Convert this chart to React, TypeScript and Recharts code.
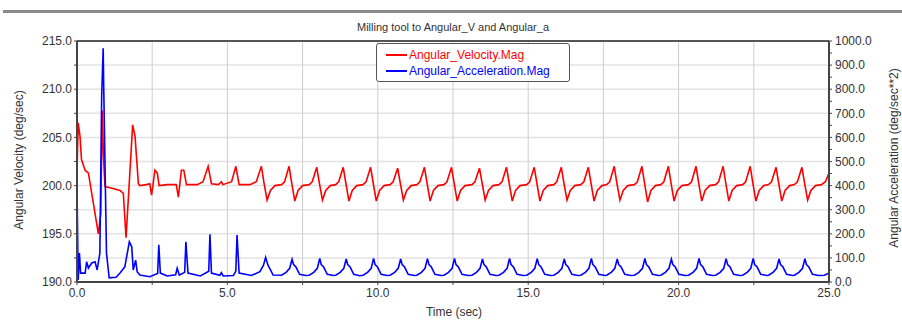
import React from 'react';
import { LineChart, Line, XAxis, YAxis, CartesianGrid, ReferenceLine, Legend } from 'recharts';

const chartTitle = 'Milling tool to Angular_V and Angular_a';
const xAxisTitle = 'Time (sec)';
const leftAxisTitle = 'Angular Velocity (deg/sec)';
const rightAxisTitle = 'Angular Acceleration (deg/sec**2)';
const seriesNames = ['Angular_Velocity.Mag', 'Angular_Acceleration.Mag'];
const seriesColors = ['#ff0000', '#0000ff'];

const timeTicks = [0, 2.5, 5, 7.5, 10, 12.5, 15, 17.5, 20, 22.5, 25];
const velocityTicks = [190, 192.5, 195, 197.5, 200, 202.5, 205, 207.5, 210, 212.5, 215];
const accelerationTicks = [0, 50, 100, 150, 200, 250, 300, 350, 400, 450, 500, 550, 600, 650, 700, 750, 800, 850, 900, 950, 1000];

// [time (sec), angular velocity (deg/sec)]
const angularVelocity: [number, number][] = [
  [0, 201.6], [0.04, 206.5], [0.1, 205.1], [0.15, 202.7], [0.27, 201.6], [0.38, 201.3], [0.49, 199.2],
  [0.71, 195.0], [0.79, 197.1], [0.84, 207.8], [0.88, 203.0], [0.93, 199.9], [1.2, 199.7], [1.43, 199.5],
  [1.54, 199.2], [1.63, 194.6], [1.74, 200.4], [1.85, 206.3], [1.93, 205.1], [2.04, 200.2], [2.09, 200.0],
  [2.3, 200.1], [2.42, 200.2], [2.48, 199.0], [2.59, 201.6], [2.67, 201.3], [2.73, 200.0], [3.0, 200.1],
  [3.3, 200.1], [3.37, 198.8], [3.47, 201.6], [3.55, 201.6], [3.64, 200.1], [4.0, 200.1], [4.19, 200.4],
  [4.36, 202.0], [4.47, 200.2], [4.7, 200.1], [4.8, 200.4], [4.85, 200.1], [5.14, 200.4], [5.28, 202.0],
  [5.39, 200.1], [5.75, 200.1], [5.96, 200.4],
  [6.13, 202.0], [6.21, 200.4], [6.32, 198.5], [6.43, 199.5], [6.58, 200.0],
  [6.8, 200.1], [6.9, 200.4], [7.05, 202.0], [7.13, 200.4], [7.24, 198.4], [7.35, 199.5], [7.5, 200.0],
  [7.72, 200.1], [7.82, 200.4], [7.97, 201.9], [8.05, 200.4], [8.16, 198.5], [8.27, 199.5], [8.42, 200.0],
  [8.6, 200.1], [8.7, 200.4], [8.85, 201.9], [8.93, 200.4], [9.04, 198.4], [9.15, 199.5], [9.3, 200.0],
  [9.51, 200.1], [9.61, 200.4], [9.76, 201.9], [9.84, 200.4], [9.95, 198.4], [10.06, 199.5], [10.21, 200.0],
  [10.41, 200.1], [10.51, 200.4], [10.66, 201.8], [10.74, 200.4], [10.85, 198.5], [10.96, 199.5], [11.11, 200.0],
  [11.3, 200.1], [11.4, 200.4], [11.55, 201.9], [11.63, 200.4], [11.74, 198.4], [11.85, 199.5], [12.0, 200.0],
  [12.2, 200.1], [12.3, 200.4], [12.45, 201.9], [12.53, 200.4], [12.64, 198.4], [12.75, 199.5], [12.9, 200.0],
  [13.13, 200.1], [13.23, 200.4], [13.38, 201.8], [13.46, 200.4], [13.57, 198.5], [13.68, 199.5], [13.83, 200.0],
  [14.03, 200.1], [14.13, 200.4], [14.28, 201.9], [14.36, 200.4], [14.47, 198.4], [14.58, 199.5], [14.73, 200.0],
  [14.95, 200.1], [15.05, 200.4], [15.2, 201.9], [15.28, 200.4], [15.39, 198.4], [15.5, 199.5], [15.65, 200.0],
  [15.85, 200.1], [15.95, 200.4], [16.1, 201.9], [16.18, 200.4], [16.29, 198.5], [16.4, 199.5], [16.55, 200.0],
  [16.75, 200.1], [16.85, 200.4], [17.0, 201.9], [17.08, 200.4], [17.19, 198.4], [17.3, 199.5], [17.45, 200.0],
  [17.61, 200.1], [17.71, 200.4], [17.86, 202.0], [17.94, 200.4], [18.05, 198.5], [18.16, 199.5], [18.31, 200.0],
  [18.53, 200.1], [18.63, 200.4], [18.78, 202.0], [18.86, 200.4], [18.97, 198.3], [19.08, 199.5], [19.23, 200.0],
  [19.41, 200.1], [19.51, 200.4], [19.66, 202.0], [19.74, 200.4], [19.85, 198.4], [19.96, 199.5], [20.11, 200.0],
  [20.33, 200.1], [20.43, 200.4], [20.58, 202.0], [20.66, 200.4], [20.77, 198.4], [20.88, 199.5], [21.03, 200.0],
  [21.23, 200.1], [21.33, 200.4], [21.48, 202.0], [21.56, 200.4], [21.67, 198.4], [21.78, 199.5], [21.93, 200.0],
  [22.13, 200.1], [22.23, 200.4], [22.38, 202.0], [22.46, 200.4], [22.57, 198.4], [22.68, 199.5], [22.83, 200.0],
  [22.99, 200.1], [23.09, 200.4], [23.24, 201.9], [23.32, 200.4], [23.43, 198.4], [23.54, 199.5], [23.69, 200.0],
  [23.85, 200.1], [23.95, 200.4], [24.1, 201.9], [24.18, 200.4], [24.29, 198.5], [24.4, 199.5], [24.55, 200.0],
  [24.75, 200.1], [24.88, 200.4], [25.0, 201.3],
];

// [time (sec), angular acceleration (deg/sec**2)]
const angularAcceleration: [number, number][] = [
  [0, 395], [0.04, 8], [0.08, 120], [0.12, 37], [0.27, 37], [0.32, 84], [0.38, 58], [0.49, 79], [0.6, 84],
  [0.67, 50], [0.76, 120], [0.82, 769], [0.87, 970], [0.89, 797], [0.98, 120], [1.07, 17], [1.3, 20],
  [1.43, 37], [1.59, 63], [1.74, 167], [1.82, 146], [1.87, 50], [1.95, 91], [2.0, 43], [2.09, 29], [2.42, 22],
  [2.68, 35], [2.72, 154], [2.77, 37], [3.0, 25], [3.28, 30], [3.33, 57], [3.4, 29], [3.58, 40], [3.62, 167],
  [3.69, 37], [4.1, 25], [4.38, 45], [4.42, 198], [4.47, 37], [4.75, 28], [4.8, 39], [4.86, 25], [5.2, 27],
  [5.28, 45], [5.32, 195], [5.39, 37], [5.8, 27], [6.08, 43], [6.2, 70], [6.27, 102], [6.35, 70], [6.52, 29],
  [6.8, 28], [6.95, 40], [7.07, 57], [7.15, 94], [7.2, 72], [7.28, 62], [7.4, 32], [7.6, 27],
  [7.72, 28], [7.87, 40], [7.99, 57], [8.07, 98], [8.12, 72], [8.2, 62], [8.32, 32], [8.52, 27],
  [8.6, 28], [8.75, 40], [8.87, 57], [8.95, 96], [9.0, 72], [9.08, 62], [9.2, 32], [9.4, 26],
  [9.51, 28], [9.66, 40], [9.78, 57], [9.86, 98], [9.91, 72], [9.99, 62], [10.11, 32], [10.31, 27],
  [10.41, 28], [10.56, 40], [10.68, 57], [10.76, 96], [10.81, 72], [10.89, 62], [11.01, 32], [11.21, 27],
  [11.3, 28], [11.45, 40], [11.57, 57], [11.65, 97], [11.7, 72], [11.78, 62], [11.9, 32], [12.1, 27],
  [12.2, 28], [12.35, 40], [12.47, 57], [12.55, 98], [12.6, 72], [12.68, 62], [12.8, 32], [13.0, 27],
  [13.13, 28], [13.28, 40], [13.4, 57], [13.48, 96], [13.53, 72], [13.61, 62], [13.73, 32], [13.93, 27],
  [14.03, 28], [14.18, 40], [14.3, 57], [14.38, 98], [14.43, 72], [14.51, 62], [14.63, 32], [14.83, 27],
  [14.95, 28], [15.1, 40], [15.22, 57], [15.3, 97], [15.35, 72], [15.43, 62], [15.55, 32], [15.75, 27],
  [15.85, 28], [16.0, 40], [16.12, 57], [16.2, 96], [16.25, 72], [16.33, 62], [16.45, 32], [16.65, 27],
  [16.75, 28], [16.9, 40], [17.02, 57], [17.1, 98], [17.15, 72], [17.23, 62], [17.35, 32], [17.55, 27],
  [17.61, 28], [17.76, 40], [17.88, 57], [17.96, 96], [18.01, 72], [18.09, 62], [18.21, 32], [18.41, 27],
  [18.53, 28], [18.68, 40], [18.8, 57], [18.88, 98], [18.93, 72], [19.01, 62], [19.13, 32], [19.33, 27],
  [19.41, 28], [19.56, 40], [19.68, 57], [19.76, 95], [19.81, 72], [19.89, 62], [20.01, 32], [20.21, 27],
  [20.33, 28], [20.48, 40], [20.6, 57], [20.68, 98], [20.73, 72], [20.81, 62], [20.93, 32], [21.13, 27],
  [21.23, 28], [21.38, 40], [21.5, 57], [21.58, 97], [21.63, 72], [21.71, 62], [21.83, 32], [22.03, 27],
  [22.13, 28], [22.28, 40], [22.4, 57], [22.48, 98], [22.53, 72], [22.61, 62], [22.73, 32], [22.93, 27],
  [22.99, 28], [23.14, 40], [23.26, 57], [23.34, 96], [23.39, 72], [23.47, 62], [23.59, 32], [23.79, 27],
  [23.85, 28], [24.0, 40], [24.12, 57], [24.2, 97], [24.25, 72], [24.33, 62], [24.45, 32], [24.65, 27],
  [24.85, 28], [25.0, 37],
];

const velocityData = angularVelocity.map(([t, v]) => ({ t, v }));
const accelerationData = angularAcceleration.map(([t, a]) => ({ t, a }));

const FONT = '"Liberation Sans", Arial, sans-serif';

const LegendBox = () => (
  <div
    style={{
      border: '1px solid #555',
      borderRadius: 3,
      background: '#fff',
      padding: '3px 6px 3px 9px',
      fontFamily: FONT,
      fontSize: 12,
      lineHeight: '16px',
      boxSizing: 'border-box',
      width: 194,
      height: 39,
    }}
  >
    {seriesNames.map((name, i) => (
      <div key={name} style={{ display: 'flex', alignItems: 'center', color: seriesColors[i] }}>
        <span style={{ display: 'inline-block', width: 21, height: 2, background: seriesColors[i], marginRight: 2 }} />
        <span>{name}</span>
      </div>
    ))}
  </div>
);

const fmtVel = (v: number) => (v % 5 === 0 ? v.toFixed(1) : '');
const fmtAcc = (v: number) => (v % 100 === 0 ? v.toFixed(1) : '');
const fmtTime = (v: number) => (v % 5 === 0 ? v.toFixed(1) : '');

export default function App() {
  return (
    <div style={{ position: 'absolute', left: 0, top: 0, width: 902, height: 323, background: '#fff', fontFamily: FONT }}>
      <LineChart width={902} height={323} margin={{ top: 41, right: 13, bottom: 11, left: 17 }}>
        <CartesianGrid yAxisId="left" vertical={false} stroke="#e3e3e3" strokeWidth={1.5} />
        <CartesianGrid yAxisId="left" horizontal={false} stroke="#cdcdcd" strokeWidth={1} />
        <XAxis
          dataKey="t"
          type="number"
          domain={[0, 25]}
          ticks={timeTicks}
          interval={0}
          tickFormatter={fmtTime}
          height={30}
          axisLine={{ stroke: '#444', strokeWidth: 2 }}
          tickLine={{ stroke: '#444' }}
          tick={{ fill: '#333', fontSize: 12, fontFamily: FONT }}
          tickSize={3}
          tickMargin={3}
        />
        <YAxis
          yAxisId="left"
          type="number"
          domain={[190, 215]}
          ticks={velocityTicks}
          interval={0}
          tickFormatter={fmtVel}
          width={60}
          axisLine={{ stroke: '#444', strokeWidth: 2 }}
          tickLine={{ stroke: '#444' }}
          tick={{ fill: '#333', fontSize: 12, fontFamily: FONT }}
          tickSize={3}
          tickMargin={2}
        />
        <YAxis
          yAxisId="right"
          orientation="right"
          type="number"
          domain={[0, 1000]}
          ticks={accelerationTicks}
          interval={0}
          tickFormatter={fmtAcc}
          width={60}
          axisLine={{ stroke: '#444', strokeWidth: 2 }}
          tickLine={{ stroke: '#444' }}
          tick={{ fill: '#333', fontSize: 12, fontFamily: FONT }}
          tickSize={3}
          tickMargin={3}
        />
        <ReferenceLine yAxisId="left" y={215} stroke="#555" strokeWidth={2} />
        <Line
          data={velocityData}
          dataKey="v"
          yAxisId="left"
          type="linear"
          stroke={seriesColors[0]}
          strokeWidth={1.6}
          dot={false}
          activeDot={false}
          isAnimationActive={false}
          name={seriesNames[0]}
        />
        <Line
          data={accelerationData}
          dataKey="a"
          yAxisId="right"
          type="linear"
          stroke={seriesColors[1]}
          strokeWidth={1.6}
          dot={false}
          activeDot={false}
          isAnimationActive={false}
          name={seriesNames[1]}
        />
        <Legend
          layout="vertical"
          align="center"
          verticalAlign="middle"
          content={() => <LegendBox />}
          wrapperStyle={{ position: 'absolute', left: 376, top: 43, width: 194, height: 39 }}
        />
      </LineChart>
      <svg
        width={902}
        height={323}
        style={{ position: 'absolute', left: 0, top: 0, pointerEvents: 'none' }}
      >
        <rect x={3} y={10} width={899} height={3} fill="#8a8a8a" />
        <text x={453} y={31} textAnchor="middle" fontSize={11} fill="#333" fontFamily={FONT}>
          {chartTitle}
        </text>
        <text x={454} y={316} textAnchor="middle" fontSize={12} fill="#333" fontFamily={FONT}>
          {xAxisTitle}
        </text>
        <text x={23} y={160} textAnchor="middle" fontSize={12} fill="#333" fontFamily={FONT} transform="rotate(-90 23 160)">
          {leftAxisTitle}
        </text>
        <text x={898} y={158} textAnchor="middle" fontSize={12} fill="#333" fontFamily={FONT} transform="rotate(-90 898 158)">
          {rightAxisTitle}
        </text>
      </svg>
    </div>
  );
}
